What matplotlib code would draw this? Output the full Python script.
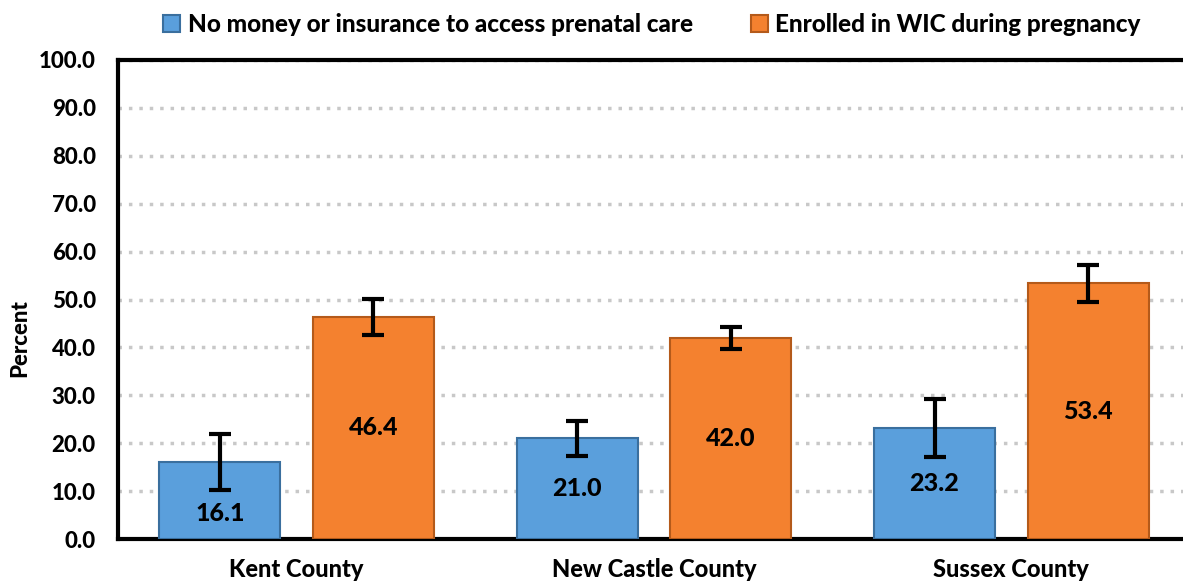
import matplotlib
matplotlib.use("Agg")
import matplotlib.pyplot as plt
import numpy as np

# Data
counties = ["Kent County", "New Castle County", "Sussex County"]
series_names = ["No money or insurance to access prenatal care",
                "Enrolled in WIC during pregnancy"]
no_money = [16.1, 21.0, 23.2]
no_money_err = [5.9, 3.7, 6.0]
wic = [46.4, 42.0, 53.4]
wic_err = [3.8, 2.3, 3.9]

blue = "#5A9FDC"
orange = "#F4812F"

plt.rcParams["font.family"] = ["Lato", "DejaVu Sans"]
wt = "black"

fig = plt.figure(figsize=(11.83, 5.82), dpi=100)
ax = fig.add_axes([118 / 1183, 43 / 582, 1072 / 1183, 479 / 582])

x = np.arange(len(counties))
w = 0.338
off = 0.215

b1 = ax.bar(x - off, no_money, w, color=blue, edgecolor="#3A6F9E", linewidth=1.5,
            label=series_names[0], zorder=3)
b2 = ax.bar(x + off, wic, w, color=orange, edgecolor="#B45A1A", linewidth=1.5,
            label=series_names[1], zorder=3)
ax.errorbar(x - off, no_money, yerr=no_money_err, fmt="none", ecolor="black",
            elinewidth=3, capsize=8, capthick=3, zorder=4)
ax.errorbar(x + off, wic, yerr=wic_err, fmt="none", ecolor="black",
            elinewidth=3, capsize=8, capthick=3, zorder=4)

# value labels inside bars (Kent blue pushed down under its error bar)
for i, v in enumerate(no_money):
    ypos = v / 2 if i > 0 else 5.4
    ax.text(x[i] - off, ypos, f"{v:.1f}", ha="center", va="center",
            fontsize=18, fontweight=wt, zorder=5)
for i, v in enumerate(wic):
    ax.text(x[i] + off, v / 2, f"{v:.1f}", ha="center", va="center",
            fontsize=18, fontweight=wt, zorder=5)

ax.set_xlim(-0.5, 2.5)
ax.set_ylim(0, 100)
ax.set_yticks(np.arange(0, 101, 10))
ax.set_yticklabels([f"{t:.1f}" for t in np.arange(0, 101, 10)], fontsize=16,
                   fontweight=wt)
ax.set_xticks(x)
ax.set_xticklabels(counties, fontsize=17, fontweight=wt)
ax.tick_params(axis="y", length=0, pad=16)
ax.tick_params(axis="x", length=0, pad=14)
ax.set_ylabel("Percent", fontsize=16, fontweight=wt)
ax.yaxis.set_label_coords(-0.082, 0.42)

ax.yaxis.grid(True, linestyle=(0, (1, 2)), color="#C8C8C8", linewidth=2.5, zorder=0)
ax.set_axisbelow(True)
for s in ax.spines.values():
    s.set_linewidth(3)
    s.set_color("black")
ax.spines["right"].set_visible(False)

fig.legend(handles=[b1, b2], labels=series_names, loc="upper center",
           bbox_to_anchor=(652 / 1183, 1.015), ncol=2, frameon=False,
           handlelength=0.7, handleheight=0.7, handletextpad=0.3,
           columnspacing=2.4, prop={"weight": wt, "size": 17.5})

fig.savefig("out.png", dpi=100)
